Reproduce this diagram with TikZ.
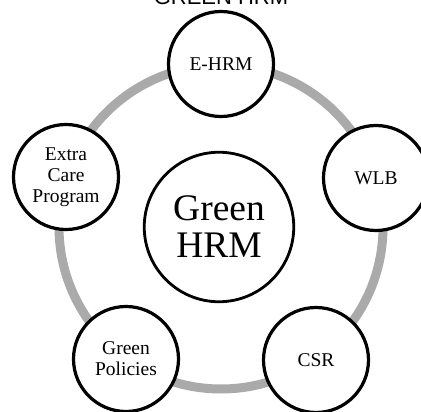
\documentclass[tikz,border=0pt]{standalone}
\usepackage{fontspec}
\setmainfont{Liberation Serif}
\newfontfamily\titlefont{Liberation Sans}
\begin{document}
\begin{tikzpicture}[x=1pt,y=-1pt,
  item/.style={circle, draw=black, fill=white, line width=3.2pt, minimum size=105pt, inner sep=0pt, align=center,
    font=\fontsize{19.5}{21}\selectfont},
  hub/.style={circle, draw=black, fill=white, line width=2.8pt, minimum size=149.5pt, inner sep=0pt, align=center,
    font=\fontsize{37.5}{39}\selectfont},
  heading/.style={font=\titlefont\fontsize{22}{24}\selectfont, anchor=base, inner sep=0pt},
  ringstyle/.style={circle, draw={rgb,255:red,170;green,170;blue,170}, line width=9pt, minimum size=324pt, inner sep=0pt}]
\useasboundingbox (0,0) rectangle (421,412);
\node[ringstyle] (ring) at (221,227) {};
\node[heading] (title) at (221,4.5) {GREEN HRM};
\node[hub] (hrm) at (219,227) {Green\\[-2pt]HRM};
\node[item] (ehrm) at (221,64) {E-HRM};
\node[item] (wlb) at (376,178) {WLB};
\node[item] (csr) at (316,360) {CSR};
\node[item] (gp) at (126,359) {Green\\Policies};
\node[item] (ecp) at (66,177) {Extra\\Care\\Program};
\end{tikzpicture}
\end{document}
